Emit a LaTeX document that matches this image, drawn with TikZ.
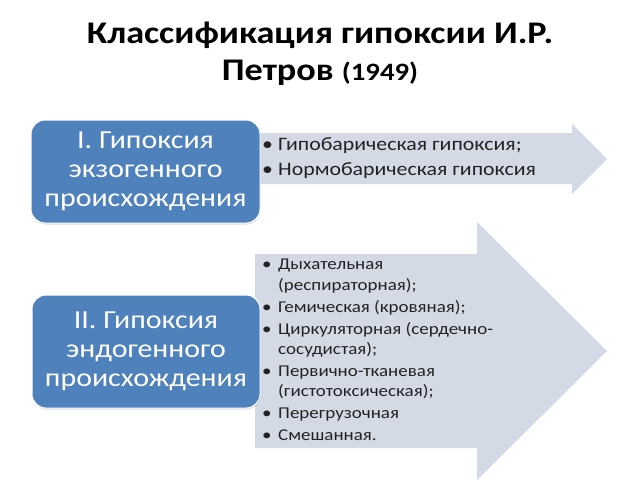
\documentclass[tikz,border=0pt]{standalone}
\usepackage{fontspec}
\setmainfont{Carlito}[FakeStretch=1.15]
\usetikzlibrary{shadows}

\definecolor{boxblue}{RGB}{79,129,189}
\definecolor{arrowfill}{RGB}{212,217,230}
\definecolor{itemgray}{RGB}{35,35,35}

\tikzset{
  classbox/.style={draw=white, line width=1pt, fill=boxblue, rounded corners=14pt,
    text=white, align=center, inner sep=0pt,
    font=\fontsize{26}{29}\selectfont,
    drop shadow={opacity=0.25, shadow xshift=0.5pt, shadow yshift=-1.5pt}},
  bigarrow/.style={fill=arrowfill, draw=none},
  itemlist/.style={anchor=north west, align=left, inner sep=0pt, text=itemgray},
}
\newcommand{\itm}{\makebox[16pt][l]{•}}
\newcommand{\cnt}{\hspace*{16pt}}

\begin{document}
\begin{tikzpicture}[x=1pt, y=-1pt]
  \useasboundingbox (0,0) rectangle (640,480);

  % title
  \node[anchor=base, font=\bfseries\fontsize{31.5}{36}\selectfont] (title1) at (320,43)
    {Классификация гипоксии И.Р.};
  \node[anchor=base, font=\bfseries\fontsize{31.5}{36}\selectfont] (title2) at (320,80)
    {Петров {\fontsize{25}{28}\selectfont(1949)}};

  % arrows
  \fill[bigarrow] (255,133) -- (572,133) -- (572,124) -- (607,159)
    -- (572,194) -- (572,184) -- (255,184) -- cycle;
  \fill[bigarrow] (255,254) -- (477,254) -- (477,222) -- (607,351)
    -- (477,480) -- (477,448) -- (255,448) -- cycle;

  % boxes
  \node[classbox, minimum width=229pt, minimum height=103pt] (exo) at (145.5,171.5)
    {I. Гипоксия\\экзогенного\\происхождения};
  \node[classbox, minimum width=228pt, minimum height=113pt] (endo) at (146,351.5)
    {II. Гипоксия\\эндогенного\\происхождения};

  % lists
  \node[itemlist, font=\fontsize{19}{25}\selectfont] (exolist) at (262,137)
    {\itm Гипобарическая гипоксия;\\
     \itm Нормобарическая гипоксия};
  \node[itemlist, font=\fontsize{16.5}{20.4}\selectfont] (endolist) at (262,259)
    {\itm Дыхательная\\
     \cnt(респираторная);\\[1.6pt]
     \itm Гемическая (кровяная);\\[1.6pt]
     \itm Циркуляторная (сердечно-\\
     \cnt сосудистая);\\[1.6pt]
     \itm Первично-тканевая\\
     \cnt(гистотоксическая);\\[1.6pt]
     \itm Перегрузочная\\[1.6pt]
     \itm Смешанная.};
\end{tikzpicture}
\end{document}
